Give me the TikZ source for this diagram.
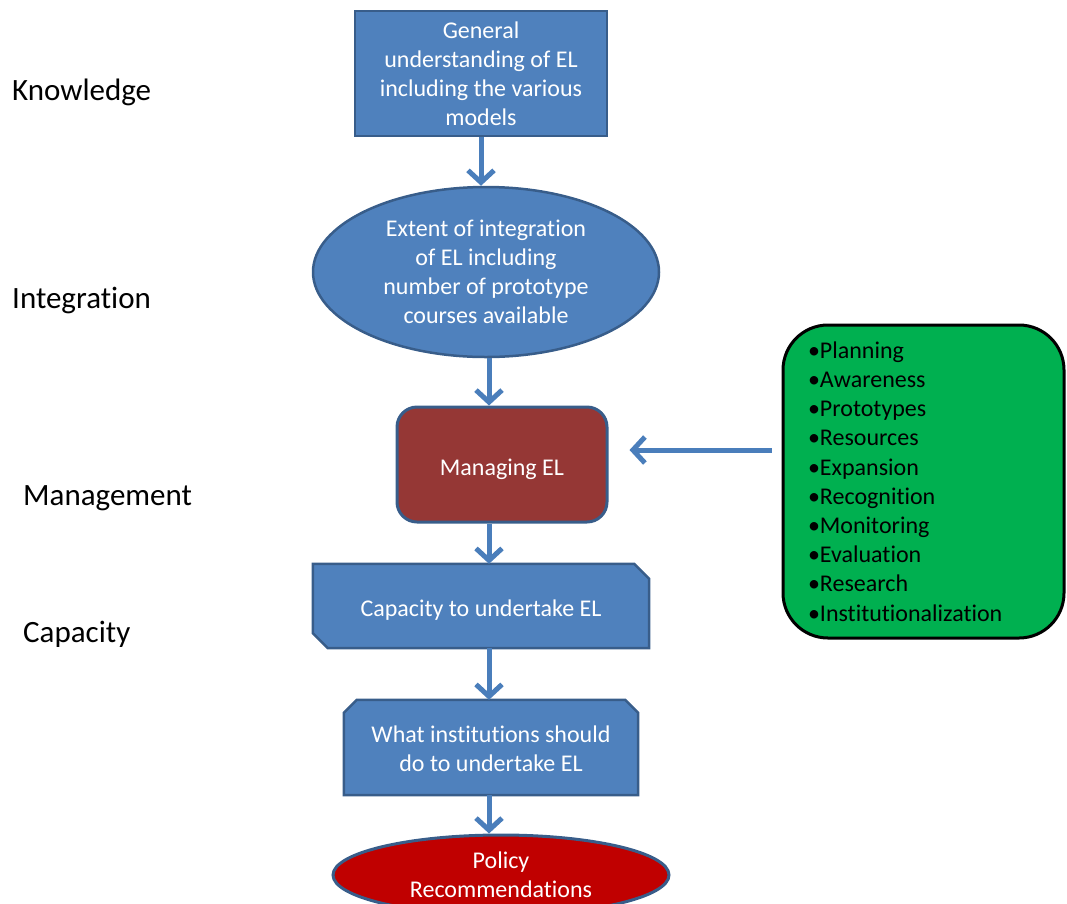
\documentclass[tikz,border=0pt]{standalone}
\usepackage{fontspec}
\setmainfont{Carlito}[RawFeature={-liga}]
\usetikzlibrary{arrows.meta,shapes.geometric,calc}
\definecolor{boxblue}{RGB}{79,129,189}
\definecolor{edgeblue}{RGB}{56,93,138}
\definecolor{arrowblue}{RGB}{74,126,187}
\definecolor{mgmtred}{RGB}{149,55,53}
\definecolor{polred}{RGB}{192,0,0}
\definecolor{listgreen}{RGB}{0,176,80}
\pgfdeclarelayer{background}
\pgfsetlayers{background,main}
\begin{document}
\begin{tikzpicture}[x=1pt,y=-1pt,
  flowbox/.style={draw=edgeblue,line width=2.5pt,fill=boxblue,text=white,font=\fontsize{24}{29}\selectfont,align=center,inner sep=0pt},
  flowtext/.style={text=white,font=\fontsize{24}{29}\selectfont,align=center,inner sep=0pt},
  snipline/.style={draw=edgeblue,line width=2.5pt,fill=boxblue,line join=miter},
  flowarrow/.style={arrowblue,line width=5pt,-{Straight Barb[length=12pt,width=26pt]}},
  sidelabel/.style={anchor=west,font=\fontsize{31}{37}\selectfont,inner sep=0pt}]
\useasboundingbox (0,0) rectangle (1067,903);
\begin{scope}
\clip (0,0) rectangle (1067,903);
% left labels
\node[sidelabel] (lknow) at (12,92) {Knowledge};
\node[sidelabel] (linteg) at (12,300) {Integration};
\node[sidelabel] (lmanage) at (23,498) {Management};
\node[sidelabel] (lcap) at (23,634) {Capacity};
% flow nodes
\node[flowbox, minimum width=252pt, minimum height=125pt] (know) at (481,73.5)
  {General\\understanding of EL\\including the various\\models};
\node[flowbox, ellipse, minimum width=346pt, minimum height=170pt] (integ) at (486,272)
  {Extent of integration\\of EL including\\number of prototype\\courses available};
\node[flowbox, fill=mgmtred, rounded corners=20pt, line width=3pt, minimum width=210pt, minimum height=115pt,
  text height=22pt, text depth=0pt] (manage) at (502,464.5)
  {Managing EL};
\node[flowtext, minimum width=336pt, minimum height=84pt, text height=20pt, text depth=0pt] (cap) at (481,606)
  {Capacity to undertake EL};
\node[flowtext, minimum width=294pt, minimum height=95pt] (inst) at (491,747.5)
  {\raisebox{-4pt}[\height][\depth]{\begin{tabular}{@{}c@{}}What institutions should\\do to undertake EL\end{tabular}}};
\node[flowbox, ellipse, fill=polred, line width=3pt, minimum width=336pt, minimum height=80pt] (policy) at (501,875)
  {Policy\\Recommendations};
\node[draw=black, line width=3pt, fill=listgreen, rounded corners=45pt, minimum width=281pt, minimum height=313pt,
  text width=231pt, inner xsep=25pt, inner ysep=0pt, align=left, font=\fontsize{24}{29.2}\selectfont] (list) at (923.5,481.5)
  {•Planning\\•Awareness\\•Prototypes\\•Resources\\•Expansion\\•Recognition\\•Monitoring\\•Evaluation\\•Research\\•Institutionalization};
% snipped-corner outlines
\begin{pgfonlayer}{background}
\path[snipline] (cap.north west) -- ($(cap.north east)+(-15,0)$) -- ($(cap.north east)+(0,15)$)
  -- (cap.south east) -- ($(cap.south west)+(15,0)$) -- ($(cap.south west)+(0,-15)$) -- cycle;
\path[snipline] ($(inst.north west)+(0,13)$) -- ($(inst.north west)+(13,0)$) -- ($(inst.north east)+(-13,0)$)
  -- ($(inst.north east)+(0,13)$) -- (inst.south east) -- (inst.south west) -- cycle;
\end{pgfonlayer}
% connectors
\draw[flowarrow] (know.south) -- (know.south |- integ.north);
\draw[flowarrow] ([xshift=3pt]integ.south) -- ([xshift=3pt]integ.south |- manage.north);
\draw[flowarrow] ([xshift=-13pt]manage.south) -- ([xshift=-13pt]manage.south |- cap.north);
\draw[flowarrow] ([xshift=8pt]cap.south) -- ([xshift=8pt]cap.south |- inst.north);
\draw[flowarrow] ([xshift=-2pt]inst.south) -- ([xshift=-2pt]inst.south |- policy.north);
\draw[flowarrow] ($(list.west)+(-10,-31.5)$) -- ($(manage.east)+(21,-14.5)$);
\end{scope}
\end{tikzpicture}
\end{document}
